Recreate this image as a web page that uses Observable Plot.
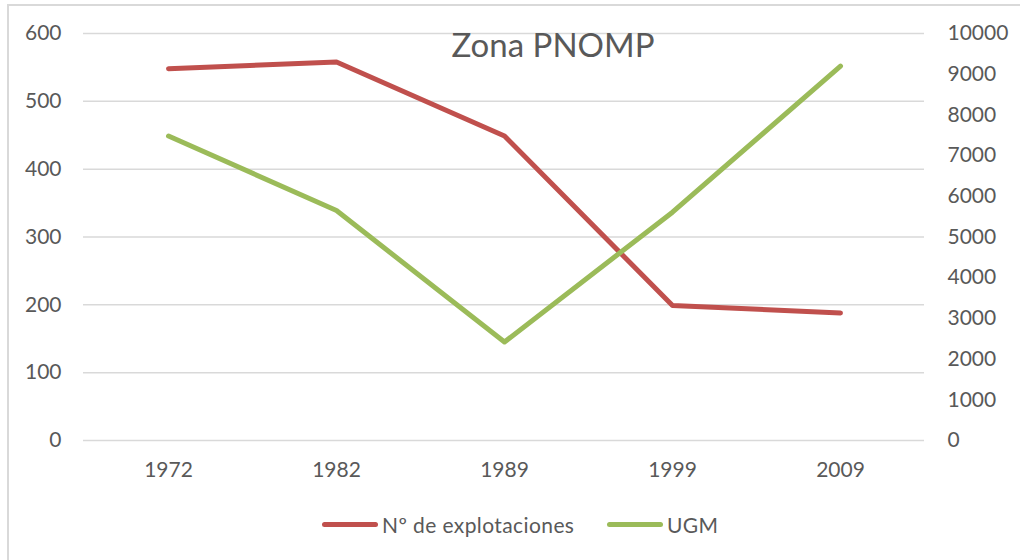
<!DOCTYPE html>
<html>
<head>
<meta charset="utf-8">
<script src="https://cdn.jsdelivr.net/npm/d3@7"></script>
<script src="https://cdn.jsdelivr.net/npm/@observablehq/plot@0.6"></script>
<style>
  html, body { margin: 0; padding: 0; background: #fff; }
  #wrap { position: relative; width: 1020px; height: 560px; overflow: hidden; font-family: Lato, "Open Sans", sans-serif; }
  #frame { position: absolute; left: 7px; top: 4px; width: 1100px; height: 700px; border-left: 2px solid #d9d9d9; border-top: 2px solid #d9d9d9; box-sizing: border-box; pointer-events: none; }
  #title { position: absolute; left: 553px; top: 28px; transform: translateX(-50%); font-size: 33px; line-height: 33px; color: #595959; white-space: nowrap; }
  #legend { position: absolute; left: 0; top: 512px; width: 1020px; height: 24px; }
  .item { position: absolute; top: 0; height: 24px; display: flex; align-items: center; font-size: 21px; letter-spacing: 0.4px; color: #595959; white-space: nowrap; }
  .sw { display: inline-block; width: 56px; height: 5px; border-radius: 3px; margin-right: 4px; }
  svg { position: absolute; left: 0; top: 0; }
</style>
</head>
<body>
<div id="wrap">
  <div id="chart"></div>
  <div id="frame"></div>
  <div id="title"></div>
  <div id="legend"></div>
</div>
<script>
const title = "Zona PNOMP";
const years = ["1972", "1982", "1989", "1999", "2009"];
const explotaciones = [548, 558, 449, 199, 188];
const ugm = [7480, 5650, 2420, 5610, 9200];
const leftTicks = [0, 100, 200, 300, 400, 500, 600];
const rightTicks = [0, 1000, 2000, 3000, 4000, 5000, 6000, 7000, 8000, 9000, 10000];
const seriesNames = ["Nº de explotaciones", "UGM"];
const seriesColors = ["#c0504d", "#9bbb59"];

const leftMax = 600, rightMax = 10000;
const toLeft = v => v * leftMax / rightMax;

const redData = years.map((y, i) => ({year: y, value: explotaciones[i]}));
const greenData = years.map((y, i) => ({year: y, value: toLeft(ugm[i])}));

const textColor = "#595959";

const chart = Plot.plot({
  width: 1020,
  height: 560,
  marginLeft: 83,
  marginRight: 96,
  marginTop: 33,
  marginBottom: 120,
  style: {fontFamily: "Lato, 'Open Sans', sans-serif", background: "transparent", overflow: "visible"},
  x: {type: "point", domain: years, padding: 0.5},
  y: {domain: [0, leftMax]},
  marks: [
    Plot.gridY(leftTicks, {stroke: "#d9d9d9", strokeOpacity: 1, strokeWidth: 1.5}),
    Plot.axisY(leftTicks, {anchor: "left", tickSize: 0, tickPadding: 22, fontSize: 21, fill: textColor, label: null}),
    Plot.axisY(rightTicks.map(toLeft), {anchor: "right", tickSize: 0, tickPadding: 23, fontSize: 21, fill: textColor, label: null,
      tickFormat: d => String(Math.round(d * rightMax / leftMax))}),
    Plot.axisX({tickSize: 0, tickPadding: 22, fontSize: 21, fill: textColor, label: null}),
    Plot.line(redData, {x: "year", y: "value", stroke: seriesColors[0], strokeWidth: 5, strokeLinecap: "round", strokeLinejoin: "round"}),
    Plot.line(greenData, {x: "year", y: "value", stroke: seriesColors[1], strokeWidth: 5, strokeLinecap: "round", strokeLinejoin: "round"})
  ]
});
document.getElementById("chart").appendChild(chart);
document.getElementById("title").textContent = title;

const legend = document.getElementById("legend");
const lefts = [322, 607];
seriesNames.forEach((name, i) => {
  const item = document.createElement("div");
  item.className = "item";
  item.style.left = lefts[i] + "px";
  const sw = document.createElement("span");
  sw.className = "sw";
  sw.style.background = seriesColors[i];
  item.appendChild(sw);
  item.appendChild(document.createTextNode(name));
  legend.appendChild(item);
});
</script>
</body>
</html>
